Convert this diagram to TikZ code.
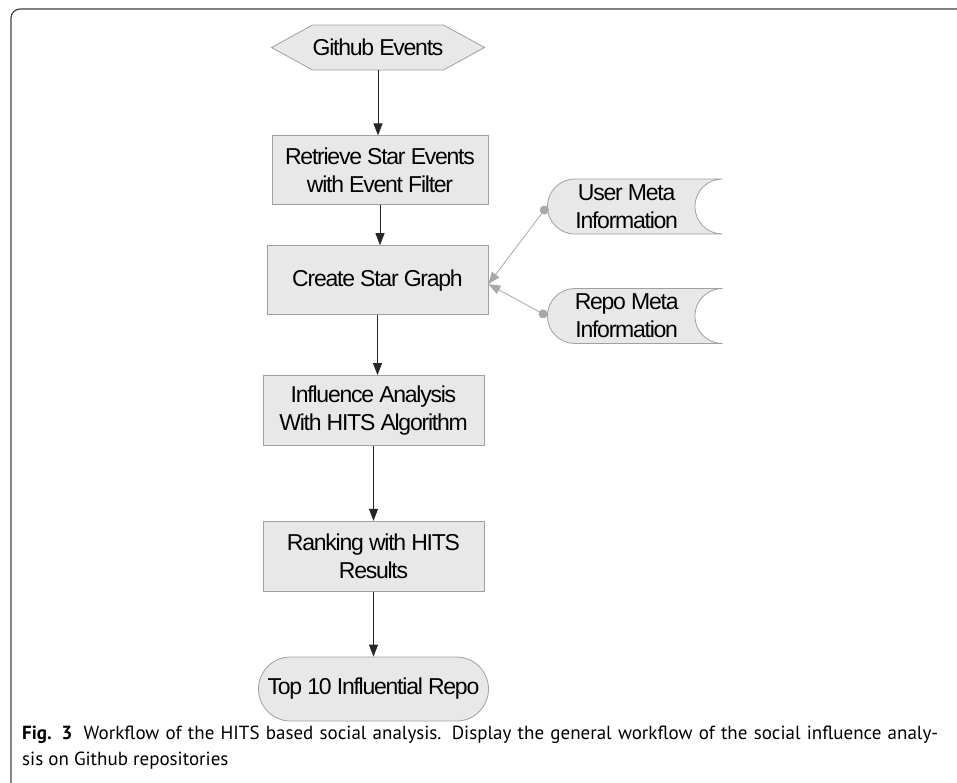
\documentclass[tikz,border=0pt]{standalone}
\usepackage{fontspec}
\setmainfont{Liberation Sans}
\newfontfamily\flowfamily{Liberation Sans}[LetterSpace=-5.4]
\newfontfamily\capfamily{PT Sans}
\usetikzlibrary{positioning}
\usetikzlibrary{arrows.meta}
\usetikzlibrary{shapes.misc}
\usetikzlibrary{shapes.symbols}

\definecolor{boxfill}{HTML}{E8E8E8}
\definecolor{boxline}{HTML}{A0A0A0}
\definecolor{feedline}{HTML}{A8A8A8}
\newcommand\flowfont{\flowfamily\fontsize{23}{28}\selectfont}

\tikzset{
    stepbox/.style={rectangle, draw=boxline, fill=boxfill, line width=0.8pt, minimum width=221pt, minimum height=70pt, align=center, inner sep=0pt, font=\flowfont},
    hexbox/.style={signal, signal to=east and west, signal pointer angle=57.5, draw=boxline, fill=boxfill, line width=0.8pt, minimum width=213pt, minimum height=45pt, inner sep=0pt, font=\flowfont},
    databox/.style={rounded rectangle, rounded rectangle right arc=concave, draw=boxline, fill=boxfill, line width=0.8pt, minimum width=175pt, minimum height=55pt, align=center, inner sep=0pt, font=\flowfont, anchor=west},
    endbox/.style={rounded rectangle, draw=boxline, fill=boxfill, line width=0.8pt, minimum width=230pt, minimum height=64pt, inner sep=0pt, font=\flowfont},
    flow/.style={draw=black!85, line width=0.8pt, -{Triangle[length=12pt, width=9pt]}},
    feed/.style={draw=feedline, line width=0.8pt, {Circle[length=9pt]}-{Triangle[length=12pt, width=9pt]}},
}

\begin{document}
\begin{tikzpicture}[x=1pt, y=-1pt]
    \useasboundingbox (0,0) rectangle (957,782);
    \draw[black!75, line width=1.2pt, rounded corners=9pt] (11,800) -- (11,9) -- (980,9);

    \node (events) [hexbox] at (378,47.5) {Github Events};
    \node (retrieve) [stepbox, minimum width=216pt, minimum height=69pt, below=65pt of events, xshift=2pt] {Retrieve Star Events\\with Event Filter};
    \node (create) [stepbox, minimum height=69pt, below=40pt of retrieve, xshift=-2.5pt] {Create Star Graph};
    \node (influence) [stepbox, below=60pt of create, xshift=-4pt] {Influence Analysis\\With HITS Algorithm};
    \node (ranking) [stepbox, below=75pt of influence] {Ranking with HITS\\Results};
    \node (top) [endbox, below=65pt of ranking] {Top 10 Influential Repo};

    \node (usermeta) [databox] at (547,206.5) {User Meta\\Information};
    \node (repometa) [databox] at (547,316) {Repo Meta\\Information};

    \draw[flow] (events.south) -- (events.south |- retrieve.north);
    \draw[flow] (retrieve.south) -- (retrieve.south |- create.north);
    \draw[flow] (create.south) -- (create.south |- influence.north);
    \draw[flow] (influence.south) -- (influence.south |- ranking.north);
    \draw[flow] (ranking.south) -- (ranking.south |- top.north);

    \draw[feed] (usermeta.west) -- ([yshift=-4pt]create.east);
    \draw[feed] (repometa.west) -- ([yshift=-4pt]create.east);

    \node (caption) [anchor=north west, align=left, inner sep=0pt, font=\capfamily\fontsize{19}{26}\selectfont] at (22,726) {\makebox[916pt][s]{\textbf{Fig. 3}\hspace{0.6em}Workflow of the HITS based social analysis. Display the general workflow of the social influence analy-}\\sis on Github repositories};
\end{tikzpicture}
\end{document}
